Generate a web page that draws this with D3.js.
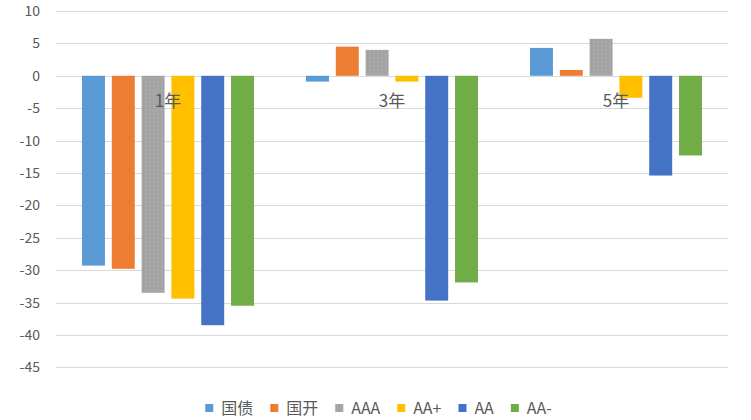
<!DOCTYPE html>
<html><head><meta charset="utf-8">
<script src="https://cdn.jsdelivr.net/npm/d3@7"></script>
<style>
html,body{margin:0;padding:0;background:#fff;}
svg{display:block;}
</style></head>
<body>
<svg id="chart" width="751" height="420"></svg>
<script>
const categories = ["1年", "3年", "5年"];
const seriesNames = ["国债", "国开", "AAA", "AA+", "AA", "AA-"];
const s_guozhai = [-29.3, -0.9, 4.3];
const s_guokai  = [-29.8, 4.5, 0.9];
const s_AAA     = [-33.5, 4.0, 5.7];
const s_AAplus  = [-34.4, -0.9, -3.4];
const s_AA      = [-38.5, -34.7, -15.4];
const s_AAminus = [-35.5, -31.9, -12.3];
const seriesValues = [s_guozhai, s_guokai, s_AAA, s_AAplus, s_AA, s_AAminus];
const yTicks = [10, 5, 0, -5, -10, -15, -20, -25, -30, -35, -40, -45];
const colors = ["#5b9bd5", "#ed7d31", "#a5a5a5", "#ffc000", "#4472c4", "#70ad47"];

const svg = d3.select("#chart");
const font = "'Noto Sans CJK SC', 'Noto Sans', sans-serif";
const textColor = "#595959";

// subtle texture for AAA
const defs = svg.append("defs");
const pat = defs.append("pattern").attr("id","grayTex").attr("patternUnits","userSpaceOnUse")
  .attr("width",4).attr("height",4);
pat.append("rect").attr("width",4).attr("height",4).attr("fill","#a5a5a5");
[[0,0,"#9f9f9f"],[2,1,"#ababab"],[1,2,"#ababab"],[3,3,"#9f9f9f"],[3,1,"#a1a1a1"],[1,3,"#a9a9a9"]].forEach(([x,y,c])=>{
  pat.append("rect").attr("x",x).attr("y",y).attr("width",1).attr("height",1).attr("fill",c);
});
const fills = colors.map((c,i)=> i===2 ? "url(#grayTex)" : c);

const left = 56, right = 728;
const y = d3.scaleLinear().domain([-45, 10]).range([367.3, 11]);
const x0 = d3.scaleBand().domain(categories).range([left, right]).padding(0);
const x1 = d3.scaleBand().domain(seriesNames).range([26, 198]).paddingInner(0.23).paddingOuter(0);

// gridlines
svg.append("g").selectAll("line").data(yTicks).join("line")
  .attr("x1", left).attr("x2", right)
  .attr("y1", d => Math.round(y(d)) + 0.5).attr("y2", d => Math.round(y(d)) + 0.5)
  .attr("stroke", "#d9d9d9").attr("stroke-width", 1);

// y axis labels
const yAxis = d3.axisLeft(y).tickValues(yTicks).tickSize(0).tickPadding(0)
  .tickFormat(d => d3.format("d")(d).replace("−","-"));
const gy = svg.append("g").attr("transform", `translate(40,0)`).call(yAxis);
gy.select(".domain").remove();
gy.selectAll("text").attr("fill", textColor).style("font-family", font).style("font-size", "14px");

// bars
const groups = svg.append("g").selectAll("g").data(categories).join("g")
  .attr("transform", d => `translate(${x0(d)},0)`);
groups.selectAll("rect").data((d, ci) => seriesNames.map((s, si) => ({s, si, v: seriesValues[si][ci]})))
  .join("rect")
  .attr("x", d => x1(d.s))
  .attr("width", x1.bandwidth())
  .attr("y", d => y(Math.max(0, d.v)))
  .attr("height", d => Math.abs(y(d.v) - y(0)))
  .attr("fill", d => fills[d.si]);

// category labels
svg.append("g").selectAll("text").data(categories).join("text")
  .attr("x", d => x0(d) + x0.bandwidth() / 2)
  .attr("y", 107)
  .attr("text-anchor", "middle")
  .attr("fill", textColor)
  .style("font-family", font).style("font-size", "17px")
  .text(d => d);

// legend
const lg = svg.append("g");
const items = lg.selectAll("g").data(seriesNames).join("g");
items.append("rect").attr("width", 8).attr("height", 8).attr("y", 404)
  .attr("fill", (d, i) => fills[i]);
items.append("text").attr("x", 16).attr("y", 414)
  .attr("fill", textColor).style("font-family", font).style("font-size", "16px")
  .text(d => d);
const widths = [];
items.each(function() {
  const w = d3.select(this).select("text").node().getComputedTextLength();
  widths.push(16 + w);
});
const gap = 17;
const total = d3.sum(widths) + gap * (widths.length - 1);
let start = 378.5 - total / 2;
items.attr("transform", (d, i) => {
  const t = `translate(${start},0)`;
  start += widths[i] + gap;
  return t;
});
</script>
</body></html>
